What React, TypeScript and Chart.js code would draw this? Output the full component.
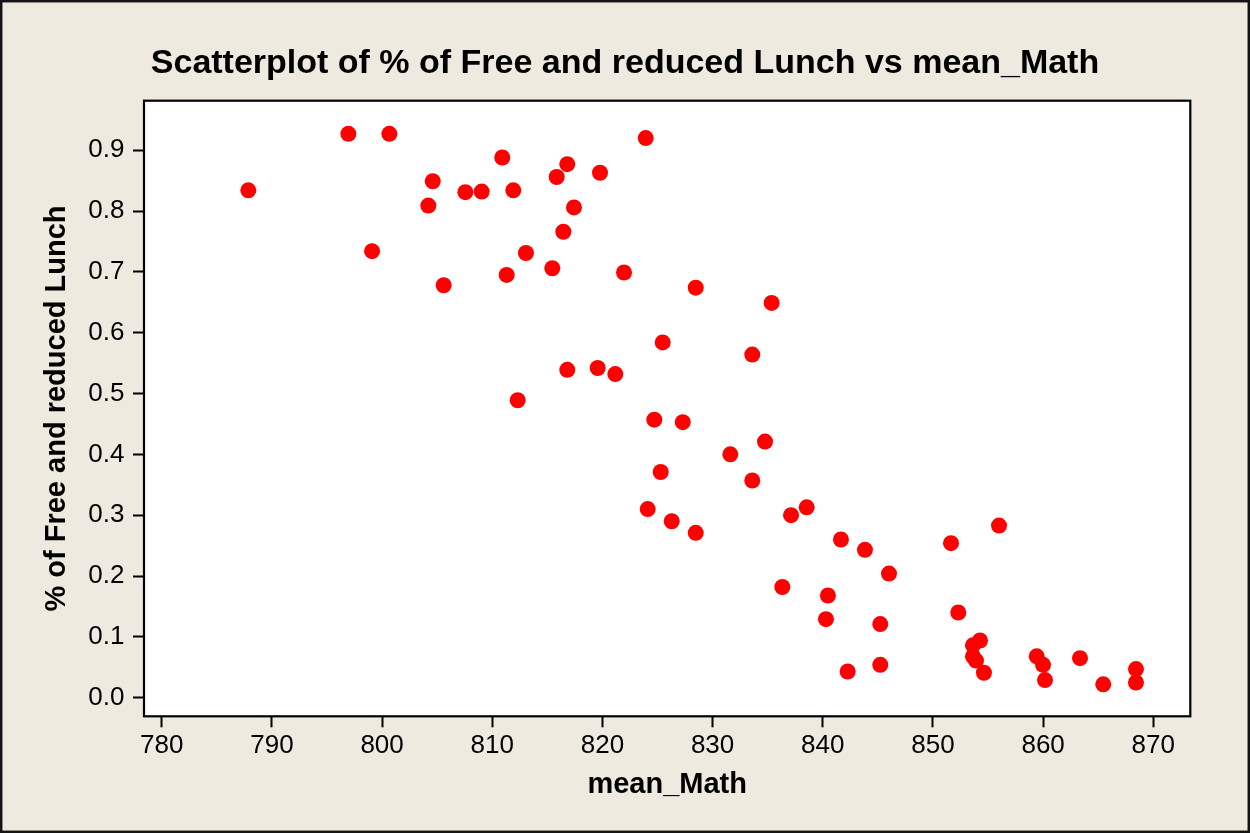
import { useEffect, useRef } from "react";
import { Chart, registerables } from "chart.js";

Chart.register(...registerables);

const chartTitle = "Scatterplot of % of Free and reduced Lunch vs mean_Math";
const xAxisTitle = "mean_Math";
const yAxisTitle = "% of Free and reduced Lunch";

const meanMath = [
  787.86, 796.94, 800.66, 799.09, 804.2, 804.6, 805.59, 807.56, 809.04, 810.91,
  811.91, 811.31, 813.06, 812.31, 815.45, 815.85, 816.81, 816.45, 817.42, 816.81,
  819.57, 819.78, 821.17, 821.96, 823.93, 824.11, 824.71, 825.29, 825.47, 826.29,
  827.29, 828.47, 828.47, 831.61, 833.6, 833.6, 834.76, 835.36, 836.33, 837.12,
  838.54, 840.29, 840.47, 841.65, 842.26, 843.83, 845.22, 845.22, 846.01, 851.64,
  852.3, 853.63, 853.63, 853.91, 854.27, 854.63, 856.0, 859.42, 859.99, 860.17,
  863.35, 865.46, 868.43, 868.43,
];

const freeLunch = [
  0.834, 0.927, 0.927, 0.734, 0.809, 0.849, 0.678, 0.831, 0.832, 0.888,
  0.834, 0.695, 0.731, 0.489, 0.706, 0.856, 0.877, 0.766, 0.806, 0.539,
  0.542, 0.863, 0.532, 0.699, 0.92, 0.31, 0.457, 0.371, 0.584, 0.29,
  0.453, 0.271, 0.674, 0.4, 0.564, 0.357, 0.421, 0.649, 0.182, 0.3,
  0.313, 0.129, 0.168, 0.26, 0.043, 0.243, 0.121, 0.054, 0.204, 0.254,
  0.14, 0.086, 0.068, 0.061, 0.094, 0.041, 0.283, 0.068, 0.054, 0.029,
  0.065, 0.022, 0.047, 0.025,
];

const xTickValues = [780, 790, 800, 810, 820, 830, 840, 850, 860, 870];
const yTickValues = [0, 0.1, 0.2, 0.3, 0.4, 0.5, 0.6, 0.7, 0.8, 0.9];

const FONT = "'Liberation Sans', Arial, sans-serif";

const framePlugin = {
  id: "minitabFrame",
  beforeDraw(chart: any) {
    const { ctx, width, height, chartArea } = chart;
    ctx.save();
    ctx.fillStyle = "#EEEAE0";
    ctx.fillRect(0, 0, width, height);
    ctx.fillStyle = "#FFFFFF";
    ctx.fillRect(
      chartArea.left,
      chartArea.top,
      chartArea.right - chartArea.left,
      chartArea.bottom - chartArea.top
    );
    ctx.restore();
  },
  afterDraw(chart: any) {
    const { ctx, width, height, chartArea } = chart;
    ctx.save();
    ctx.strokeStyle = "#000000";
    ctx.lineWidth = 2.2;
    ctx.strokeRect(
      chartArea.left,
      chartArea.top,
      chartArea.right - chartArea.left,
      chartArea.bottom - chartArea.top
    );
    ctx.strokeStyle = "#141414";
    ctx.lineWidth = 2.5;
    ctx.strokeRect(1.2, 1.2, width - 2.4, height - 2.4);
    ctx.fillStyle = "#000000";
    ctx.font = `bold 34px ${FONT}`;
    ctx.textAlign = "center";
    ctx.textBaseline = "alphabetic";
    ctx.fillText(chartTitle, 625, 72.7);
    ctx.restore();
  },
};

export default function App() {
  const ref = useRef<HTMLCanvasElement>(null);

  useEffect(() => {
    const prevMargin = document.body.style.margin;
    document.body.style.margin = "0";
    const canvas = ref.current;
    if (!canvas) return;
    const points = meanMath.map((x, i) => ({ x, y: freeLunch[i] }));
    const chart = new Chart(canvas, {
      type: "scatter",
      data: {
        datasets: [
          {
            data: points,
            backgroundColor: "#FF0000",
            borderColor: "#FF0000",
            borderWidth: 0,
            pointRadius: 8,
            pointHoverRadius: 8,
          },
        ],
      },
      options: {
        responsive: false,
        animation: false,
        devicePixelRatio: 1,
        events: [],
        layout: { padding: { top: 100.7, left: 0, right: 59.7, bottom: 0 } },
        plugins: {
          legend: { display: false },
          tooltip: { enabled: false },
          title: { display: false },
        },
        scales: {
          x: {
            type: "linear",
            min: 778.39,
            max: 873.36,
            afterBuildTicks: (s: any) => {
              s.ticks = xTickValues.map((v) => ({ value: v }));
            },
            afterFit: (s: any) => {
              s.height = 116.7;
            },
            grid: {
              display: true,
              drawOnChartArea: false,
              drawTicks: true,
              tickLength: 11,
              tickWidth: 2,
              tickColor: "#000000",
            },
            border: { display: false },
            ticks: {
              color: "#000000",
              font: { family: FONT, size: 26 },
              padding: 3.4,
              maxRotation: 0,
              autoSkip: false,
              callback: (v: any) => String(v),
            },
            title: {
              display: true,
              text: xAxisTitle,
              color: "#000000",
              font: { family: FONT, size: 29, weight: "bold" },
              padding: { top: 0, bottom: 30.6 },
            },
          },
          y: {
            type: "linear",
            min: -0.0306,
            max: 0.9814,
            afterBuildTicks: (s: any) => {
              s.ticks = yTickValues.map((v) => ({ value: v }));
            },
            afterFit: (s: any) => {
              s.width = 144;
            },
            grid: {
              display: true,
              drawOnChartArea: false,
              drawTicks: true,
              tickLength: 11,
              tickWidth: 2,
              tickColor: "#000000",
            },
            border: { display: false },
            ticks: {
              color: "#000000",
              font: { family: FONT, size: 26 },
              padding: 8.5,
              autoSkip: false,
              callback: (v: any) => Number(v).toFixed(1),
            },
            title: {
              display: true,
              text: yAxisTitle,
              color: "#000000",
              font: { family: FONT, size: 29, weight: "bold" },
              padding: { top: 39.1, bottom: 0 },
            },
          },
        },
      },
      plugins: [framePlugin],
    });
    return () => {
      chart.destroy();
      document.body.style.margin = prevMargin;
    };
  }, []);

  return (
    <canvas
      ref={ref}
      width={1250}
      height={833}
      style={{ display: "block", width: 1250, height: 833 }}
    />
  );
}
